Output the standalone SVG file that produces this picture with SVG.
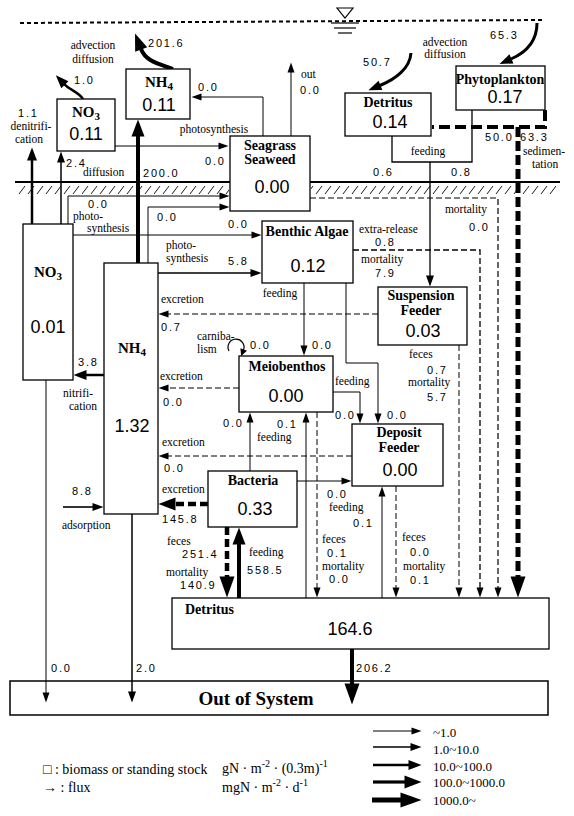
<svg xmlns="http://www.w3.org/2000/svg" width="574" height="816" viewBox="0 0 574 816">
<style>
.b{fill:#fff;stroke:#000;stroke-width:1.3}
.t{font-family:"Liberation Serif",serif;font-weight:bold;font-size:14px;text-anchor:middle}
.v{font-family:"Liberation Sans",Arial,sans-serif;font-size:18px;text-anchor:middle}
.l{font-family:"Liberation Serif",serif;font-size:11.5px}
.m{text-anchor:middle}
.n{font-family:"Liberation Sans",Arial,sans-serif;font-size:11px;letter-spacing:1.8px}
.c{fill:none;stroke:#000;stroke-width:1}
.d{stroke-dasharray:6 3}
.D{stroke-dasharray:10 4}
.g{font-family:"Liberation Serif",serif;font-size:14px}
.r{font-family:"Liberation Serif",serif;font-size:13px}
</style>
<defs>
<marker id="a0" markerUnits="userSpaceOnUse" markerWidth="8" markerHeight="8" refX="0.5" refY="3.5" orient="auto" overflow="visible"><path d="M0,0 L7,3.5 L0,7 z"/></marker>
<marker id="a1" markerUnits="userSpaceOnUse" markerWidth="11" markerHeight="8" refX="0.5" refY="3.5" orient="auto" overflow="visible"><path d="M0,0 L10,3.5 L0,7 z"/></marker>
<marker id="a2" markerUnits="userSpaceOnUse" markerWidth="12" markerHeight="9" refX="0.5" refY="4" orient="auto" overflow="visible"><path d="M0,0 L11,4 L0,8 z"/></marker>
<marker id="a3" markerUnits="userSpaceOnUse" markerWidth="14" markerHeight="11" refX="0.5" refY="5" orient="auto" overflow="visible"><path d="M0,0 L13,5 L0,10 z"/></marker>
<marker id="a4" markerUnits="userSpaceOnUse" markerWidth="18" markerHeight="14" refX="0.5" refY="6.5" orient="auto" overflow="visible"><path d="M0,0 L17,6.5 L0,13 z"/></marker>
<marker id="a5" markerUnits="userSpaceOnUse" markerWidth="22" markerHeight="16" refX="0.5" refY="7.5" orient="auto" overflow="visible"><path d="M0,0 L21,7.5 L0,15 z"/></marker>
<pattern id="hatch" patternUnits="userSpaceOnUse" x="0" y="184" width="9" height="12"><line x1="1" y1="10" x2="7" y2="2" stroke="#000" stroke-width="0.9"/></pattern>
</defs>

<g id="surface">
<line x1="20" y1="23" x2="545" y2="20" stroke="#000" stroke-width="2" stroke-dasharray="4 3"/>
<polygon points="337,8 353,8 345,18" fill="none" stroke="#000" stroke-width="1.2"/>
<line x1="331" y1="23" x2="359" y2="23" stroke="#000" stroke-width="1.2"/>
<line x1="334" y1="28" x2="356" y2="28" stroke="#000" stroke-width="1.2"/>
<line x1="338" y1="33" x2="352" y2="33" stroke="#000" stroke-width="1.2"/>
</g>
<g id="seabed">
<rect x="18" y="184" width="211" height="11" fill="url(#hatch)"/>
<rect x="311" y="184" width="245" height="11" fill="url(#hatch)"/>
<line x1="15" y1="182" x2="560" y2="182" stroke="#000" stroke-width="2"/>
</g>

<g id="node-out-of-system">
<rect class="b" x="10" y="681" width="538" height="34" style="stroke-width:1.5"/>
<text class="t" x="256" y="705" style="font-size:19px">Out of System</text>
</g>

<g id="connectors">
<path class="c" style="stroke-width:2.5" d="M 83 99 C 80 93, 70 90, 64.5 84.3" marker-end="url(#a3)"/>
<path class="c" style="stroke-width:4" d="M 173 69 C 160 64, 146 62, 141 49" marker-end="url(#a4)"/>
<path class="c" style="stroke-width:2.5" d="M 32 224 V 160" marker-end="url(#a3)"/>
<path class="c" style="stroke-width:1.5" d="M 61 224 V 162" marker-end="url(#a2)"/>
<path class="c" style="stroke-width:4" d="M 138 263 V 136" marker-end="url(#a4)"/>
<path class="c" d="M 115 146 H 219" marker-end="url(#a1)"/>
<path class="c" d="M 263 136 V 97 H 201" marker-end="url(#a1)"/>
<path class="c" d="M 291 136 V 72" marker-end="url(#a1)"/>
<path class="c" style="stroke-width:3" d="M 411 53 C 410 68, 396 79, 380 85.5" marker-end="url(#a3)"/>
<path class="c" style="stroke-width:3" d="M 537 23 C 537 40, 527 52, 511 59" marker-end="url(#a3)"/>
<path class="c" style="stroke-width:4;stroke-dasharray:11 5" d="M 545 110 V 127 H 432"/>
<path class="c D" style="stroke-width:5" d="M 518 127 V 577" marker-end="url(#a5)"/>
<path class="c" style="stroke-width:1.3" d="M 392 136 V 162 H 472 V 110"/>
<path class="c" style="stroke-width:1.3" d="M 430 162 V 276" marker-end="url(#a2)"/>
<path class="c d" style="stroke-width:1.2" d="M 310 198 H 498 V 588" marker-end="url(#a1)"/>
<path class="c d" style="stroke-width:1.3" d="M 353 250 H 480 V 588" marker-end="url(#a1)"/>
<path class="c d" d="M 378 314 H 168" marker-end="url(#a1)"/>
<path class="c d" d="M 459 345 V 588" marker-end="url(#a1)"/>
<path class="c" d="M 68 224 V 196 H 220" marker-end="url(#a1)"/>
<path class="c" d="M 148 263 V 207 H 220" marker-end="url(#a1)"/>
<path class="c" d="M 73 235 H 252" marker-end="url(#a1)"/>
<path class="c" style="stroke-width:1.5" d="M 158 273 H 251" marker-end="url(#a2)"/>
<path class="c" d="M 304 283 V 346" marker-end="url(#a1)"/>
<path class="c" d="M 346 283 V 363 H 378 V 414" marker-end="url(#a1)"/>
<path class="c" d="M 333 392 H 360 V 414" marker-end="url(#a1)"/>
<path class="c d" d="M 239 388 H 168" marker-end="url(#a1)"/>
<path class="c" style="stroke-width:1.2" d="M 229 351 A 8 8 0 1 1 243.5 350" marker-end="url(#a0)"/>
<path class="c" d="M 250 471 V 422" marker-end="url(#a1)"/>
<path class="c" d="M 306 598 V 422" marker-end="url(#a1)"/>
<path class="c d" d="M 317 412 V 588" marker-end="url(#a1)"/>
<path class="c d" d="M 352 456 H 168" marker-end="url(#a1)"/>
<path class="c" d="M 297 481 H 342" marker-end="url(#a1)"/>
<path class="c" d="M 382 598 V 496" marker-end="url(#a1)"/>
<path class="c d" d="M 396 486 V 588" marker-end="url(#a1)"/>
<path class="c" style="stroke-width:4.5;stroke-dasharray:8 4" d="M 208 504 H 175" marker-end="url(#a4)"/>
<path class="c" style="stroke-width:4.5;stroke-dasharray:8 4" d="M 227 527 V 577" marker-end="url(#a5)"/>
<path class="c" style="stroke-width:4" d="M 239 598 V 544" marker-end="url(#a4)"/>
<path class="c" style="stroke-width:2.5" d="M 104 375 H 86" marker-end="url(#a3)"/>
<path class="c" style="stroke-width:1.6" d="M 63 507 H 93" marker-end="url(#a2)"/>
<path class="c" d="M 46 380 V 693" marker-end="url(#a1)"/>
<path class="c" style="stroke-width:1.5" d="M 132 514 V 692" marker-end="url(#a2)"/>
<path class="c" style="stroke-width:4" d="M 352 649 V 684" marker-end="url(#a5)"/>
</g>

<g id="node-no3-water">
<rect class="b" x="57" y="99" width="58" height="52"/>
<text class="t" x="86" y="117" style="font-size:15px">NO<tspan font-size="11" dy="3">3</tspan></text>
<text class="v" x="86" y="140">0.11</text>
</g>
<g id="node-nh4-water">
<rect class="b" x="126" y="69" width="64" height="50"/>
<text class="t" x="159" y="87" style="font-size:15px">NH<tspan font-size="11" dy="3">4</tspan></text>
<text class="v" x="159" y="111">0.11</text>
</g>
<g id="node-seagrass">
<rect class="b" x="230" y="136" width="80" height="75"/>
<text class="t" x="270" y="150">Seagrass</text>
<text class="t" x="270" y="164">Seaweed</text>
<text class="v" x="272" y="193">0.00</text>
</g>
<g id="node-detritus-water">
<rect class="b" x="345" y="93" width="86" height="43"/>
<text class="t" x="388" y="107">Detritus</text>
<text class="v" x="390" y="128">0.14</text>
</g>
<g id="node-phytoplankton">
<rect class="b" x="456" y="66" width="89" height="44"/>
<text class="t" x="500" y="84">Phytoplankton</text>
<text class="v" x="505" y="103">0.17</text>
</g>
<g id="node-benthic-algae">
<rect class="b" x="262" y="221" width="91" height="62"/>
<text class="t" x="307" y="236">Benthic Algae</text>
<text class="v" x="308" y="272">0.12</text>
</g>
<g id="node-suspension-feeder">
<rect class="b" x="378" y="287" width="89" height="58"/>
<text class="t" x="421" y="300">Suspension</text>
<text class="t" x="421" y="315">Feeder</text>
<text class="v" x="423" y="337">0.03</text>
</g>
<g id="node-meiobenthos">
<rect class="b" x="239" y="356" width="94" height="56"/>
<text class="t" x="287" y="371">Meiobenthos</text>
<text class="v" x="286" y="402">0.00</text>
</g>
<g id="node-deposit-feeder">
<rect class="b" x="352" y="424" width="91" height="62"/>
<text class="t" x="399" y="437">Deposit</text>
<text class="t" x="399" y="452">Feeder</text>
<text class="v" x="400" y="476">0.00</text>
</g>
<g id="node-bacteria">
<rect class="b" x="208" y="471" width="89" height="56"/>
<text class="t" x="253" y="485">Bacteria</text>
<text class="v" x="255" y="515">0.33</text>
</g>
<g id="node-no3-sediment">
<rect class="b" x="23" y="224" width="50" height="156"/>
<text class="t" x="48" y="277" style="font-size:15px">NO<tspan font-size="11" dy="3">3</tspan></text>
<text class="v" x="48" y="333">0.01</text>
</g>
<g id="node-nh4-sediment">
<rect class="b" x="104" y="263" width="54" height="251"/>
<text class="t" x="132" y="353" style="font-size:15px">NH<tspan font-size="11" dy="3">4</tspan></text>
<text class="v" x="132" y="432">1.32</text>
</g>
<g id="node-detritus-sediment">
<rect class="b" x="172" y="598" width="377" height="51"/>
<text class="t" x="185" y="614" style="text-anchor:start">Detritus</text>
<text class="v" x="350" y="635">164.6</text>
</g>

<g id="labels">
<text class="l m" x="93" y="49">advection</text>
<text class="l m" x="93" y="63">diffusion</text>
<text class="n" x="74" y="84">1.0</text>
<text class="n" x="148" y="47">201.6</text>
<text class="n" x="18" y="117">1.1</text>
<text class="l m" x="31" y="130">denitrifi-</text>
<text class="l m" x="29" y="143">cation</text>
<text class="n" x="198" y="91">0.0</text>
<text class="l m" x="214" y="133">photosynthesis</text>
<text class="l" x="301" y="78">out</text>
<text class="n" x="300" y="94">0.0</text>
<text class="n" x="205" y="165">0.0</text>
<text class="n" x="66" y="167">2.4</text>
<text class="l" x="83" y="176">diffusion</text>
<text class="n" x="143" y="177">200.0</text>
<text class="n" x="363" y="66">50.7</text>
<text class="l m" x="445" y="46">advection</text>
<text class="l m" x="445" y="58">diffusion</text>
<text class="n" x="490" y="39">65.3</text>
<text class="n" x="485" y="141">50.0</text>
<text class="n" x="520" y="141">63.3</text>
<text class="l" x="523" y="155">sedimen-</text>
<text class="l" x="532" y="168">tation</text>
<text class="l m" x="428" y="155">feeding</text>
<text class="n" x="373" y="176">0.6</text>
<text class="n" x="451" y="176">0.8</text>
<text class="l m" x="466" y="213">mortality</text>
<text class="n" x="469" y="231">0.0</text>
<text class="l" x="359" y="233">extra-release</text>
<text class="n" x="375" y="246">0.8</text>
<text class="l" x="361" y="263">mortality</text>
<text class="n" x="375" y="277">7.9</text>
<text class="l m" x="280" y="297">feeding</text>
<text class="n" x="88" y="208">0.0</text>
<text class="l" x="73" y="220">photo-</text>
<text class="l" x="87" y="232">synthesis</text>
<text class="n" x="157" y="221">0.0</text>
<text class="l" x="166" y="249">photo-</text>
<text class="l" x="166" y="262">synthesis</text>
<text class="n" x="228" y="228">0.0</text>
<text class="n" x="228" y="265">5.8</text>
<text class="l" x="161" y="303">excretion</text>
<text class="n" x="161" y="331">0.7</text>
<text class="l" x="197" y="340">carniba-</text>
<text class="l" x="197" y="353">lism</text>
<text class="n" x="250" y="349">0.0</text>
<text class="n" x="312" y="349">0.0</text>
<text class="l" x="160" y="380">excretion</text>
<text class="n" x="163" y="406">0.0</text>
<text class="n" x="78" y="366">3.8</text>
<text class="l" x="63" y="397">nitrifi-</text>
<text class="l" x="69" y="410">cation</text>
<text class="l" x="335" y="385">feeding</text>
<text class="n" x="335" y="419">0.0</text>
<text class="n" x="387" y="419">0.0</text>
<text class="l" x="409" y="358">feces</text>
<text class="n" x="427" y="374">0.7</text>
<text class="l" x="408" y="386">mortality</text>
<text class="n" x="427" y="401">5.7</text>
<text class="n" x="223" y="427">0.0</text>
<text class="n" x="277" y="428">0.1</text>
<text class="l" x="257" y="441">feeding</text>
<text class="l" x="162" y="446">excretion</text>
<text class="n" x="164" y="472">0.0</text>
<text class="n" x="72" y="495">8.8</text>
<text class="l" x="62" y="529">adsorption</text>
<text class="l" x="162" y="493">excretion</text>
<text class="n" x="162" y="523">145.8</text>
<text class="n" x="327" y="498">0.0</text>
<text class="l" x="329" y="511">feeding</text>
<text class="n" x="353" y="527">0.1</text>
<text class="l" x="167" y="545">feces</text>
<text class="n" x="182" y="558">251.4</text>
<text class="l" x="166" y="576">mortality</text>
<text class="n" x="180" y="589">140.9</text>
<text class="l" x="249" y="556">feeding</text>
<text class="n" x="247" y="574">558.5</text>
<text class="l" x="322" y="543">feces</text>
<text class="n" x="327" y="557">0.1</text>
<text class="l" x="322" y="570">mortality</text>
<text class="n" x="329" y="583">0.0</text>
<text class="l" x="402" y="541">feces</text>
<text class="n" x="410" y="556">0.0</text>
<text class="l" x="403" y="570">mortality</text>
<text class="n" x="410" y="584">0.1</text>
<text class="n" x="51" y="672">0.0</text>
<text class="n" x="136" y="672">2.0</text>
<text class="n" x="356" y="672">206.2</text>
</g>

<g id="legend">
<path class="c" style="stroke-width:1.2" d="M 373 731 H 412" marker-end="url(#a1)"/>
<path class="c" style="stroke-width:1.6" d="M 373 747 H 411" marker-end="url(#a2)"/>
<path class="c" style="stroke-width:2.5" d="M 373 765 H 409" marker-end="url(#a3)"/>
<path class="c" style="stroke-width:3.2" d="M 373 782 H 405" marker-end="url(#a4)"/>
<path class="c" style="stroke-width:5" d="M 372 800 H 401" marker-end="url(#a5)"/>
<text class="r" x="433" y="737">~1.0</text>
<text class="r" x="433" y="754">1.0~10.0</text>
<text class="r" x="433" y="771">10.0~100.0</text>
<text class="r" x="433" y="787">100.0~1000.0</text>
<text class="r" x="433" y="805">1000.0~</text>
<text class="g" x="43" y="774">□ : biomass or standing stock</text>
<text class="g" x="43" y="792">→ : flux</text>
<text class="g" x="222" y="773">gN · m<tspan font-size="10" dy="-6">-2</tspan><tspan dy="6"> · (0.3m)</tspan><tspan font-size="10" dy="-6">-1</tspan></text>
<text class="g" x="222" y="792">mgN · m<tspan font-size="10" dy="-6">-2</tspan><tspan dy="6"> · d</tspan><tspan font-size="10" dy="-6">-1</tspan></text>
</g>
</svg>
